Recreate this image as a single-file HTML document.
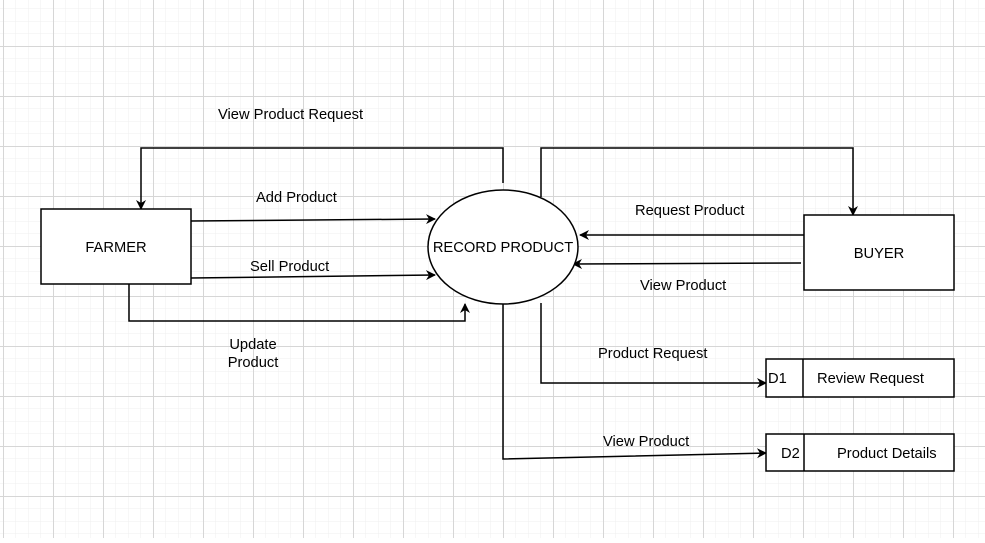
<!DOCTYPE html>
<html><head><style>
html,body{margin:0;padding:0;}
body{width:985px;height:538px;overflow:hidden;background:#fff;}
svg text{font-family:"Liberation Sans",Arial,sans-serif;font-size:14.7px;fill:#000;}
</style></head><body>
<svg width="985" height="538" xmlns="http://www.w3.org/2000/svg">
<defs>
<pattern id="mn" width="12.5" height="12.5" patternUnits="userSpaceOnUse" x="3" y="-4">
<path d="M0 0H12.5M0 0V12.5" stroke="#efefef" stroke-width="1" fill="none"/>
</pattern>
<pattern id="mj" width="50" height="50" patternUnits="userSpaceOnUse" x="3" y="-4">
<path d="M0 0.5H50M0.5 0V50" stroke="#d6d6d6" stroke-width="1" fill="none"/>
</pattern>
<marker id="ar" markerWidth="10" markerHeight="10" refX="9" refY="5" orient="auto" markerUnits="userSpaceOnUse">
<path d="M0 0L10 5L0 10L3 5Z" fill="#000"/>
</marker>
</defs>
<rect width="985" height="538" fill="url(#mn)"/>
<rect width="985" height="538" fill="url(#mj)"/>
<g stroke="#000" stroke-width="1.5" fill="none">
<polyline points="503,183 503,148 141,148 141,209" marker-end="url(#ar)"/>
<polyline points="541,197 541,148 853,148 853,215" marker-end="url(#ar)"/>
<line x1="191" y1="221" x2="435" y2="219" marker-end="url(#ar)"/>
<line x1="191" y1="278" x2="435" y2="275" marker-end="url(#ar)"/>
<polyline points="129,284 129,321 465,321 465,304" marker-end="url(#ar)"/>
<line x1="804" y1="235" x2="580" y2="235" marker-end="url(#ar)"/>
<line x1="801" y1="263" x2="573" y2="264" marker-end="url(#ar)"/>
<polyline points="541,303 541,383 766,383" marker-end="url(#ar)"/>
<polyline points="503,303 503,459 766,453" marker-end="url(#ar)"/>
</g>
<g stroke="#000" stroke-width="1.5" fill="#fff">
<ellipse cx="503" cy="247" rx="75" ry="57"/>
<rect x="41" y="209" width="150" height="75"/>
<rect x="804" y="215" width="150" height="75"/>
<rect x="766" y="359" width="188" height="38"/>
<line x1="803" y1="359" x2="803" y2="397"/>
<rect x="766" y="434" width="188" height="37"/>
<line x1="804" y1="434" x2="804" y2="471"/>
</g>
<text x="503" y="252" text-anchor="middle">RECORD PRODUCT</text>
<text x="116" y="252" text-anchor="middle">FARMER</text>
<text x="879" y="258" text-anchor="middle">BUYER</text>
<text x="768" y="383">D1</text>
<text x="817" y="383">Review Request</text>
<text x="781" y="458">D2</text>
<text x="837" y="458">Product Details</text>
<text x="218" y="119">View Product Request</text>
<text x="256" y="202">Add Product</text>
<text x="250" y="271">Sell Product</text>
<text x="253" y="349" text-anchor="middle">Update</text>
<text x="253" y="367" text-anchor="middle">Product</text>
<text x="635" y="215">Request Product</text>
<text x="640" y="290">View Product</text>
<text x="598" y="358">Product Request</text>
<text x="603" y="446">View Product</text>
</svg>
</body></html>
